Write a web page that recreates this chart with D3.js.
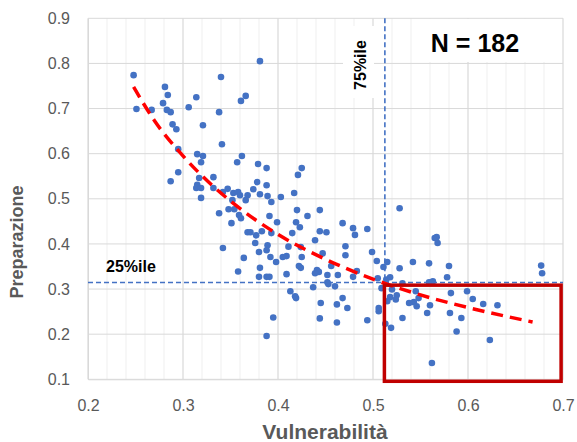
<!DOCTYPE html>
<html><head><meta charset="utf-8">
<script src="https://cdn.jsdelivr.net/npm/d3@7"></script>
<style>body{margin:0;background:#fff}svg{display:block}</style>
</head><body><svg id="c" width="577" height="442"></svg>
<script>
// Scatter data
const vulnerabilita = [
0.248,0.251,0.281,0.284,0.279,0.283,0.287,0.289,0.293,0.267,0.306,0.314,0.321,0.338,0.340,0.361,0.366,0.381,0.341,0.295,
0.315,0.321,0.362,0.357,0.319,0.295,0.287,0.317,0.332,0.315,0.314,0.319,0.332,0.319,0.342,0.347,0.353,0.358,0.360,0.368,
0.366,0.352,0.348,0.354,0.338,0.359,0.361,0.351,0.368,0.371,0.342,0.364,0.425,0.421,
0.379,0.388,0.378,0.388,0.374,0.381,0.389,0.393,0.403,0.417,0.420,0.444,0.431,0.391,0.399,0.419,0.423,0.468,0.383,0.393,
0.415,0.444,0.451,0.479,0.481,0.494,0.439,0.377,0.376,0.389,0.388,0.380,0.424,0.447,0.471,0.471,0.398,0.392,0.405,0.409,
0.425,0.456,0.381,0.422,0.424,0.441,0.443,0.439,0.483,0.499,0.504,0.511,0.528,0.528,0.380,0.388,0.391,0.409,0.452,0.463,
0.479,0.413,0.419,0.437,0.452,0.453,0.460,0.445,0.462,0.468,0.473,0.506,0.358,0.411,
0.395,0.444,0.462,0.494,0.388,0.418,
0.565,0.567,0.568,0.515,0.542,0.559,0.580,0.677,0.678,0.505,0.514,0.518,0.531,0.559,0.563,0.578,0.509,0.520,0.545,0.599,
0.582,0.518,0.525,0.524,0.515,0.548,0.538,0.543,0.546,0.560,0.605,0.616,0.631,0.506,0.557,0.581,0.593,0.531,0.513,0.519,
0.588,0.623,0.562];
const preparazione = [
0.774,0.699,0.748,0.730,0.712,0.697,0.692,0.665,0.654,0.697,0.703,0.725,0.663,0.692,0.770,0.717,0.728,0.805,0.621,0.610,
0.599,0.595,0.595,0.581,0.581,0.559,0.539,0.546,0.548,0.531,0.524,0.524,0.524,0.502,0.515,0.522,0.513,0.515,0.508,0.508,
0.497,0.497,0.477,0.477,0.468,0.464,0.457,0.446,0.426,0.426,0.391,0.369,0.568,0.553,
0.577,0.568,0.537,0.530,0.521,0.510,0.506,0.493,0.504,0.513,0.475,0.475,0.462,0.462,0.448,0.448,0.437,0.446,0.428,0.424,
0.424,0.428,0.426,0.435,0.420,0.433,0.408,0.419,0.402,0.397,0.386,0.382,0.393,0.379,0.395,0.375,0.360,0.371,0.371,0.373,
0.371,0.351,0.347,0.351,0.347,0.342,0.338,0.335,0.340,0.382,0.362,0.349,0.479,0.346,0.327,0.327,0.327,0.333,0.331,0.331,
0.327,0.295,0.280,0.304,0.315,0.311,0.306,0.269,0.266,0.280,0.258,0.258,0.339,0.394,
0.237,0.235,0.226,0.231,0.196,0.284,
0.413,0.415,0.402,0.360,0.360,0.357,0.351,0.352,0.335,0.324,0.321,0.326,0.313,0.315,0.317,0.326,0.302,0.299,0.295,0.295,
0.291,0.282,0.286,0.277,0.273,0.280,0.269,0.271,0.262,0.264,0.278,0.267,0.264,0.251,0.247,0.247,0.236,0.236,0.223,0.214,
0.206,0.187,0.136];

// Trend line (red dashed)
const trendX = [0.248, 0.27, 0.30, 0.33, 0.35, 0.40, 0.45, 0.50, 0.55, 0.60, 0.668];
const trendY = [0.748, 0.673, 0.595, 0.531, 0.495, 0.421, 0.366, 0.322, 0.287, 0.259, 0.227];

// Axis ticks
const xTicks = [0.2, 0.3, 0.4, 0.5, 0.6, 0.7];
const xMinorTicks = d3.range(0, 26).map(i => +(0.2 + i * 0.02).toFixed(2));
const yTicks = [0.1, 0.2, 0.3, 0.4, 0.5, 0.6, 0.7, 0.8, 0.9];

// Reference lines and highlight box
const p75Vulnerabilita = 0.5125;
const p25Preparazione = 0.3145;
const boxX = [0.512, 0.698];
const boxY = [0.0956, 0.3086];

const labels = {x: "Vulnerabilità", y: "Preparazione", p75: "75%ile", p25: "25%ile", n: "N = 182"};

const svg = d3.select("#c");
const FONT = "'Liberation Sans', Arial, sans-serif";
const L = 88, R = 563, T = 18.3, B = 379.3;
const x = d3.scaleLinear().domain([0.2, 0.7]).range([L, R]);
const y = d3.scaleLinear().domain([0.1, 0.9]).range([B, T]);

svg.append("rect").attr("width", 577).attr("height", 442).attr("fill", "#fff");

// minor vertical gridlines
svg.append("g").selectAll("line").data(xMinorTicks).join("line")
  .attr("x1", d => x(d)).attr("x2", d => x(d)).attr("y1", T).attr("y2", B)
  .attr("stroke", "#efefef").attr("stroke-width", 1);
// major vertical gridlines
svg.append("g").selectAll("line").data(xTicks).join("line")
  .attr("x1", d => x(d)).attr("x2", d => x(d)).attr("y1", T).attr("y2", B)
  .attr("stroke", "#d9d9d9").attr("stroke-width", 1);
// horizontal gridlines
svg.append("g").selectAll("line").data(yTicks).join("line")
  .attr("x1", L).attr("x2", R).attr("y1", d => y(d)).attr("y2", d => y(d))
  .attr("stroke", "#d9d9d9").attr("stroke-width", 1);

// white label backgrounds
svg.append("rect").attr("x", 343).attr("y", 26).attr("width", 31).attr("height", 72).attr("fill", "#fff");
svg.append("rect").attr("x", 413).attr("y", 19).attr("width", 132).attr("height", 43).attr("fill", "#fff");

// axes
const xAxis = svg.append("g").attr("transform", `translate(0,${B})`)
  .call(d3.axisBottom(x).tickValues(xTicks).tickFormat(d3.format(".1f")).tickSize(0).tickPadding(20));
const yAxis = svg.append("g").attr("transform", `translate(${L},0)`)
  .call(d3.axisLeft(y).tickValues(yTicks).tickFormat(d3.format(".1f")).tickSize(0).tickPadding(18));
[xAxis, yAxis].forEach(g => {
  g.select(".domain").attr("stroke", "#d9d9d9");
  g.selectAll("text").attr("font-family", FONT).attr("font-size", 16).attr("fill", "#595959");
});

// percentile lines
svg.append("line").attr("x1", x(p75Vulnerabilita)).attr("x2", x(p75Vulnerabilita)).attr("y1", T).attr("y2", B)
  .attr("stroke", "#4472c4").attr("stroke-width", 1.6).attr("stroke-dasharray", "5,3");
svg.append("line").attr("x1", L).attr("x2", R).attr("y1", y(p25Preparazione)).attr("y2", y(p25Preparazione))
  .attr("stroke", "#4472c4").attr("stroke-width", 1.6).attr("stroke-dasharray", "5,3");

// points
svg.append("g").selectAll("circle").data(vulnerabilita.map((v, i) => [v, preparazione[i]])).join("circle")
  .attr("cx", d => x(d[0])).attr("cy", d => y(d[1])).attr("r", 3.3).attr("fill", "#4472c4");

// trend line
svg.append("path").datum(trendX.map((v, i) => [v, trendY[i]]))
  .attr("d", d3.line().x(d => x(d[0])).y(d => y(d[1])).curve(d3.curveMonotoneX))
  .attr("fill", "none").attr("stroke", "#ff0000").attr("stroke-width", 3.5).attr("stroke-dasharray", "12,7");

// highlight box
svg.append("rect").attr("x", x(boxX[0])).attr("y", y(boxY[1]))
  .attr("width", x(boxX[1]) - x(boxX[0])).attr("height", y(boxY[0]) - y(boxY[1]))
  .attr("fill", "none").attr("stroke", "#c00000").attr("stroke-width", 3.5);

// labels
svg.append("text").attr("x", 106).attr("y", 272).text(labels.p25)
  .attr("font-family", FONT).attr("font-size", 16).attr("font-weight", "bold").attr("fill", "#000");
svg.append("text").attr("transform", "translate(366,65) rotate(-90)").attr("text-anchor", "middle").text(labels.p75)
  .attr("font-family", FONT).attr("font-size", 16).attr("font-weight", "bold").attr("fill", "#000");
svg.append("text").attr("x", 475).attr("y", 52).attr("text-anchor", "middle").text(labels.n)
  .attr("font-family", FONT).attr("font-size", 25).attr("font-weight", "bold").attr("fill", "#000");
svg.append("text").attr("x", 325).attr("y", 439).attr("text-anchor", "middle").text(labels.x)
  .attr("font-family", FONT).attr("font-size", 21).attr("font-weight", "bold").attr("fill", "#595959");
svg.append("text").attr("transform", "translate(23,242) rotate(-90)").attr("text-anchor", "middle").text(labels.y)
  .attr("font-family", FONT).attr("font-size", 18).attr("font-weight", "bold").attr("fill", "#595959");
</script></body></html>
